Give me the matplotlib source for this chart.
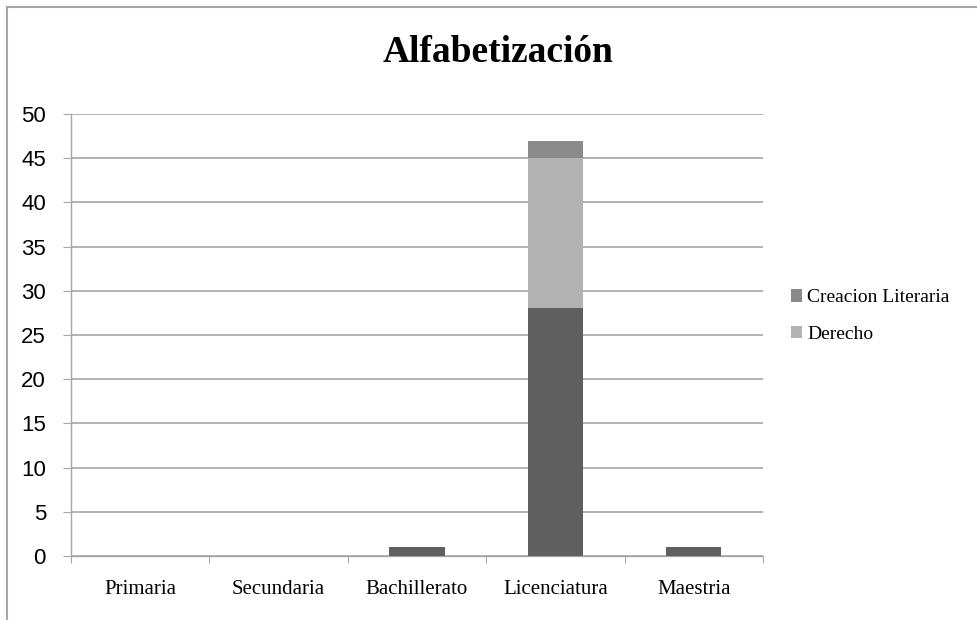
import matplotlib
matplotlib.use("Agg")
import matplotlib.pyplot as plt
import numpy as np
from matplotlib.patches import Rectangle

# data
categories = ['Primaria', 'Secundaria', 'Bachillerato', 'Licenciatura', 'Maestria']
base_values = [0, 0, 1, 28, 1]          # unnamed first series (no legend entry)
derecho = [0, 0, 0, 17, 0]
creacion = [0, 0, 0, 2, 0]
y_ticks = [0, 5, 10, 15, 20, 25, 30, 35, 40, 45, 50]

C_BASE = '#5f5f5f'
C_DER = '#b2b2b2'
C_CRE = '#8a8a8a'
GRID = '#a6a6a6'

fig = plt.figure(figsize=(9.77, 6.2), dpi=100)
ax = fig.add_axes([71 / 977, 1 - 556 / 620, 692 / 977, 442 / 620])

x = np.arange(len(categories))
w = 0.4
b1 = np.array(base_values)
b2 = b1 + np.array(derecho)
ax.bar(x, base_values, w, color=C_BASE, zorder=3)
h_der = ax.bar(x, derecho, w, bottom=b1, color=C_DER, zorder=3, label='Derecho')
h_cre = ax.bar(x, creacion, w, bottom=b2, color=C_CRE, zorder=3, label='Creacion Literaria')

ax.set_xlim(-0.5, len(categories) - 0.5)
ax.set_ylim(0, 50)
ax.set_yticks(y_ticks)
ax.yaxis.grid(True, color=GRID, linewidth=1.2, zorder=0)
ax.set_axisbelow(True)

for s in ['top', 'right']:
    ax.spines[s].set_visible(False)
for s in ['left', 'bottom']:
    ax.spines[s].set_color(GRID)
    ax.spines[s].set_linewidth(1.0)

# y ticks: sans labels, short outward marks
ax.tick_params(axis='y', length=6, color=GRID, pad=12, labelsize=16)
for lab in ax.get_yticklabels():
    lab.set_family('Liberation Sans')

# x: ticks on category boundaries, labels centered
ax.set_xticks(np.arange(len(categories) + 1) - 0.5)
ax.set_xticklabels([])
ax.tick_params(axis='x', length=5, color=GRID)
ax.set_xticks(x, minor=True)
ax.set_xticklabels(categories, minor=True, family='Liberation Serif', fontsize=15)
ax.tick_params(axis='x', which='minor', length=0, pad=17)

fig.text(498 / 977, 1 - 62 / 620, 'Alfabetización', ha='center', va='baseline',
         family='Liberation Serif', fontweight='bold', fontsize=27)

fig.legend([h_cre, h_der], ['Creacion Literaria', 'Derecho'],
           loc='center left', bbox_to_anchor=(773 / 977, 1 - 316 / 620),
           frameon=False, prop={'family': 'Liberation Serif', 'size': 14},
           handlelength=0.6, handleheight=0.6, handletextpad=0.25, labelspacing=1.0)

# outer chart frame (cut off at right and bottom in the reference)
fig.patches.append(Rectangle((7 / 977, -0.1), 1.2, 1 - 7 / 620 + 0.1,
                             transform=fig.transFigure, fill=False,
                             edgecolor=GRID, linewidth=1.5))

fig.savefig('out.png', dpi=100)
